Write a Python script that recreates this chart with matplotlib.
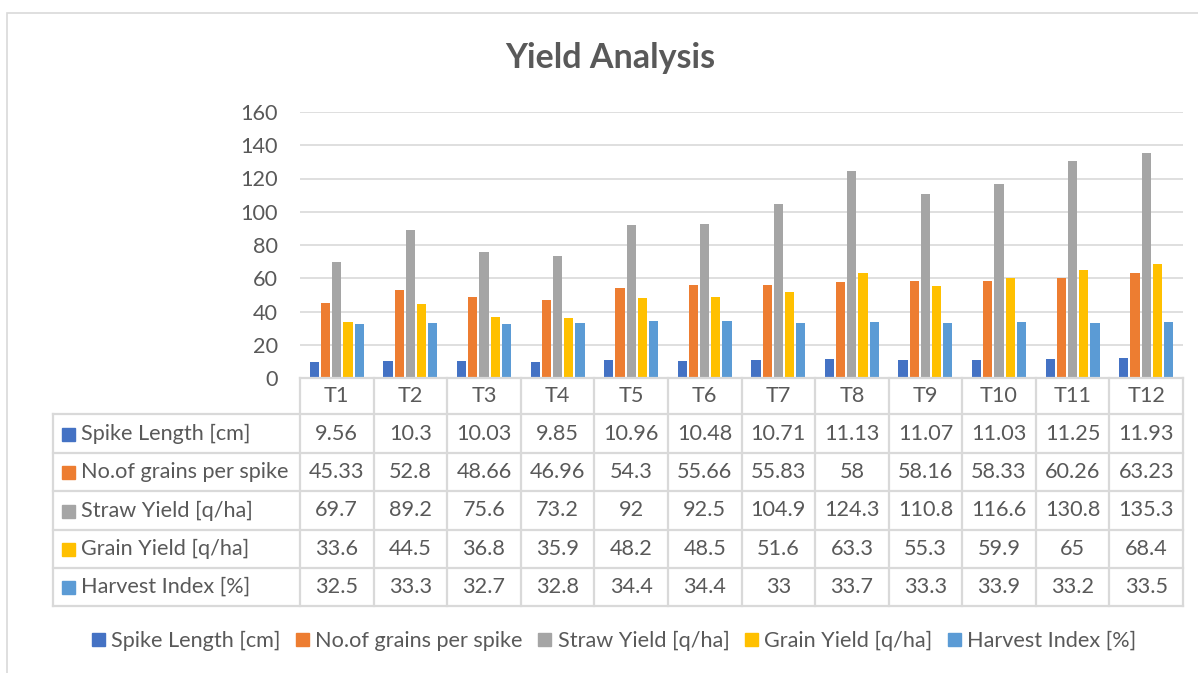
import matplotlib
matplotlib.use("Agg")
import matplotlib.pyplot as plt
from matplotlib.patches import Rectangle

plt.rcParams['font.family'] = ['Lato', 'DejaVu Sans']

categories = ["T1", "T2", "T3", "T4", "T5", "T6", "T7", "T8", "T9", "T10", "T11", "T12"]
series_names = ["Spike Length [cm]", "No.of grains per spike", "Straw Yield [q/ha]",
                "Grain Yield [q/ha]", "Harvest Index [%]"]
spike_length = [9.56, 10.3, 10.03, 9.85, 10.96, 10.48, 10.71, 11.13, 11.07, 11.03, 11.25, 11.93]
grains_per_spike = [45.33, 52.8, 48.66, 46.96, 54.3, 55.66, 55.83, 58, 58.16, 58.33, 60.26, 63.23]
straw_yield = [69.7, 89.2, 75.6, 73.2, 92, 92.5, 104.9, 124.3, 110.8, 116.6, 130.8, 135.3]
grain_yield = [33.6, 44.5, 36.8, 35.9, 48.2, 48.5, 51.6, 63.3, 55.3, 59.9, 65, 68.4]
harvest_index = [32.5, 33.3, 32.7, 32.8, 34.4, 34.4, 33, 33.7, 33.3, 33.9, 33.2, 33.5]
# labels exactly as shown in the data table
table_text = [
    ["9.56", "10.3", "10.03", "9.85", "10.96", "10.48", "10.71", "11.13", "11.07", "11.03", "11.25", "11.93"],
    ["45.33", "52.8", "48.66", "46.96", "54.3", "55.66", "55.83", "58", "58.16", "58.33", "60.26", "63.23"],
    ["69.7", "89.2", "75.6", "73.2", "92", "92.5", "104.9", "124.3", "110.8", "116.6", "130.8", "135.3"],
    ["33.6", "44.5", "36.8", "35.9", "48.2", "48.5", "51.6", "63.3", "55.3", "59.9", "65", "68.4"],
    ["32.5", "33.3", "32.7", "32.8", "34.4", "34.4", "33", "33.7", "33.3", "33.9", "33.2", "33.5"],
]
series = [spike_length, grains_per_spike, straw_yield, grain_yield, harvest_index]
colors = ["#4472C4", "#ED7D31", "#A5A5A5", "#FFC000", "#5B9BD5"]
yticks = [0, 20, 40, 60, 80, 100, 120, 140, 160]

W, H = 1198, 673
fig = plt.figure(figsize=(W / 100, H / 100), dpi=100)
TXT = "#595959"
GRID = "#D9D9D9"
FS = 15.6

def fx(px):
    return px / W

def fy(py):
    return 1 - py / H

# chart border
fig.patches.append(Rectangle((fx(7), fy(690)), fx(1210) - fx(7), fy(13) - fy(690),
                             transform=fig.transFigure, fill=False, edgecolor=GRID, lw=1.2))

# plot area
PL, PR, PT, PB = 300, 1183, 112, 378
ax = fig.add_axes([fx(PL), fy(PB), fx(PR) - fx(PL), fy(PT) - fy(PB)])
n = len(categories)
ax.set_xlim(-0.5, n - 0.5)
ax.set_ylim(0, 160)
step = 0.152
bw = 0.125
for i, (vals, c, name) in enumerate(zip(series, colors, series_names)):
    xs = [j + (i - 2) * step for j in range(n)]
    ax.bar(xs, vals, width=bw, color=c, label=name, zorder=3)
ax.set_yticks(yticks)
ax.set_xticks([])
ax.grid(axis='y', color=GRID, lw=1.2, zorder=0)
for s in ax.spines.values():
    s.set_visible(False)
ax.tick_params(axis='y', length=0, labelsize=FS, labelcolor=TXT, pad=16)

# data table
TL = 53
rows_y = [378, 414, 453, 491, 530, 568, 606]
tab = fig.add_axes([fx(TL), fy(606), fx(PR) - fx(TL), fy(378) - fy(606)])
tab.set_xlim(TL, PR)
tab.set_ylim(606, 378)
tab.axis('off')
colw = (PR - PL) / n
lwt = 1.6
tab.plot([PL, PR], [378, 378], color=GRID, lw=lwt, clip_on=False)
for yy in rows_y[1:]:
    tab.plot([TL, PR], [yy, yy], color=GRID, lw=lwt, clip_on=False)
tab.plot([TL, TL], [414, 606], color=GRID, lw=lwt, clip_on=False)
for j in range(n + 1):
    x = PL + j * colw
    tab.plot([x, x], [378, 606], color=GRID, lw=lwt, clip_on=False)
for j, cat in enumerate(categories):
    tab.text(PL + (j + 0.5) * colw, (378 + 414) / 2, cat, ha='center', va='center',
             fontsize=FS, color=TXT)
for r in range(5):
    yc = (rows_y[r + 1] + rows_y[r + 2]) / 2
    tab.add_patch(Rectangle((62, yc - 6), 13, 13, color=colors[r], clip_on=False))
    tab.text(81, yc, series_names[r], ha='left', va='center', fontsize=FS, color=TXT)
    for j in range(n):
        tab.text(PL + (j + 0.5) * colw, yc, table_text[r][j], ha='center', va='center',
                 fontsize=FS, color=TXT)

# title
fig.text(fx(610), fy(58), "Yield Analysis", ha='center', va='center', fontsize=24.5,
         fontweight='bold', color=TXT)

# legend
handles = [Rectangle((0, 0), 1, 1, color=c) for c in colors]
leg = fig.legend(handles, series_names, loc='center', bbox_to_anchor=(fx(614), fy(641)),
                 ncol=5, frameon=False, fontsize=FS, handlelength=0.6, handleheight=0.6,
                 handletextpad=0.3, columnspacing=0.7, labelcolor=TXT)

fig.savefig("out.png", dpi=100)
